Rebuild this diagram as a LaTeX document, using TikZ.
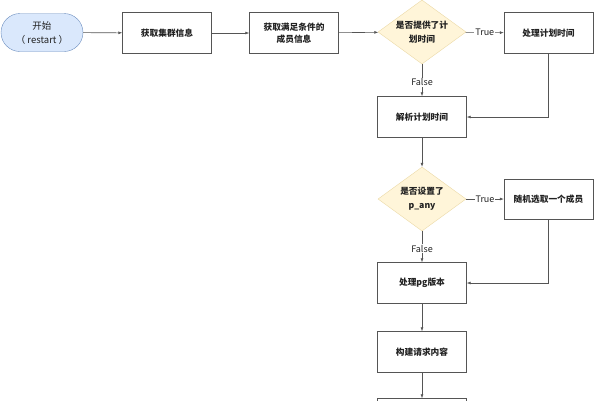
\documentclass[tikz,border=0pt]{standalone}
\usepackage{fontspec}
\setmainfont{Noto Sans CJK SC}
\usetikzlibrary{shapes.geometric,arrows.meta}

\definecolor{linegray}{HTML}{555555}
\definecolor{textgray}{HTML}{222222}
\definecolor{startfill}{HTML}{DAE8FC}
\definecolor{startline}{HTML}{6C8EBF}
\definecolor{askfill}{HTML}{FFF5D9}
\definecolor{askline}{HTML}{EBD9A6}

\tikzset{
  stepbox/.style={draw=linegray, fill=white, minimum width=89pt, minimum height=41pt,
    inner sep=1pt, align=center, font=\fontsize{8.7}{12.5}\selectfont\bfseries, text=textgray},
  startbox/.style={draw=startline, fill=startfill, rounded corners=19pt, minimum width=82pt,
    minimum height=38pt, align=center, font=\fontsize{9.5}{14}\selectfont, text=textgray},
  askbox/.style={draw=askline, fill=askfill, shape=diamond, aspect=1.375, inner sep=0pt,
    minimum width=88pt, minimum height=64pt},
  asktext/.style={align=center, font=\fontsize{8.7}{13.5}\selectfont\bfseries, text=textgray},
  flow/.style={draw=linegray, line width=0.6pt, -{Latex[length=4pt,width=3pt]}},
  branch/.style={fill=white, inner sep=1pt, font=\fontsize{9}{11}\selectfont, text=textgray}
}

\begin{document}
\begin{tikzpicture}[x=1pt, y=-1pt]
\useasboundingbox (0,0) rectangle (594,400);

% top row
\node[startbox] (start) at (42,32.5) {开始\\（ restart ）};
\node[stepbox] (cluster) at (167,33) {获取集群信息};
\node[stepbox] (members) at (294,33) {获取满足条件的\\成员信息};
\node[askbox] (askplan) at (422,32) {};
\node[asktext] (askplantext) at (422,32) {是否提供了计\\划时间};
\node[stepbox] (doplan) at (548.5,33) {处理计划时间};

% middle
\node[stepbox] (parse) at (422,117) {解析计划时间};
\node[askbox] (askany) at (422,199) {};
\node[asktext] (askanytext) at (422,199) {是否设置了\\p\_any};
\node[stepbox, minimum height=40pt] (pick) at (548.5,199) {随机选取一个成员};

% bottom
\node[stepbox] (pgver) at (422,283) {处理pg版本};
\node[stepbox] (request) at (422,352) {构建请求内容};
\node[stepbox] (next) at (422,419) {};

% connectors
\draw[flow] (start) -- (cluster);
\draw[flow] (cluster) -- (members);
\draw[flow] (members) -- (askplan);
\draw[flow] (askplan) -- node[branch] {True} (doplan);
\draw[flow] (askplan) -- node[branch, yshift=-2pt] {False} (parse);
\draw[flow] (doplan.south) |- (parse.east);
\draw[flow] (parse) -- (askany);
\draw[flow] (askany) -- node[branch] {True} (pick);
\draw[flow] (askany) -- node[branch, yshift=-2pt] {False} (pgver);
\draw[flow] (pick.south) |- (pgver.east);
\draw[flow] (pgver) -- (request);
\draw[flow] (request) -- (next);

\end{tikzpicture}
\end{document}
